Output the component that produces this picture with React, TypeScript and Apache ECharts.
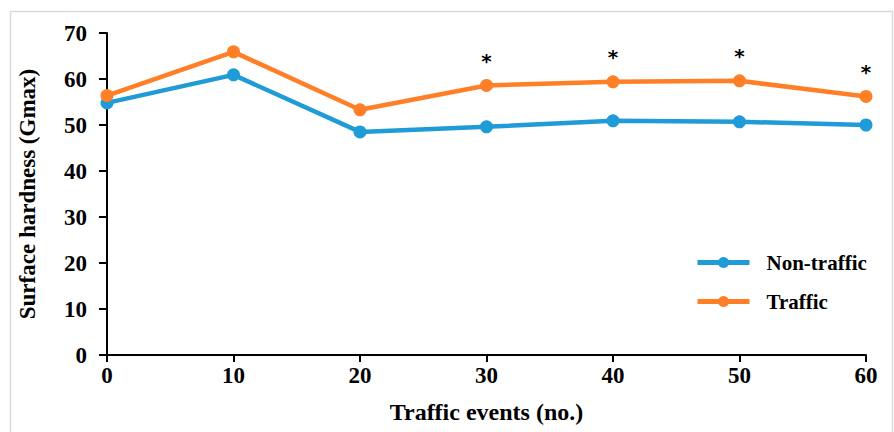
import React, { useEffect, useRef } from "react";
import * as echarts from "echarts";

const trafficEvents = [0, 10, 20, 30, 40, 50, 60];
const nonTraffic = [54.8, 60.9, 48.5, 49.6, 50.9, 50.7, 50.0];
const traffic = [56.4, 65.9, 53.3, 58.6, 59.4, 59.6, 56.2];
const significant = [false, false, false, true, true, true, true];
const yTicks = [0, 10, 20, 30, 40, 50, 60, 70];

const FONT = "'Liberation Serif', 'Times New Roman', serif";

export default function App() {
  const ref = useRef<HTMLDivElement>(null);
  useEffect(() => {
    if (!ref.current) return;
    const chart = echarts.init(ref.current, undefined, { renderer: "svg" });
    chart.setOption({
      animation: false,
      backgroundColor: "#ffffff",
      textStyle: { fontFamily: FONT },
      graphic: [
        {
          type: "rect",
          shape: { x: 10.5, y: 11.5, width: 882, height: 440 },
          style: { fill: "none", stroke: "#d9d9d9", lineWidth: 1.5 },
          silent: true,
          z: -1,
        },
      ],
      grid: { left: 107, right: 28, top: 33, bottom: 77 },
      legend: {
        orient: "vertical",
        left: 690,
        top: 247,
        itemWidth: 52,
        itemHeight: 14,
        itemGap: 18,
        lineStyle: { width: 5 },
        textStyle: { fontFamily: FONT, fontSize: 21, fontWeight: "bold", color: "#000", padding: [0, 0, 0, 12] },
        data: ["Non-traffic", "Traffic"],
      },
      xAxis: {
        type: "value",
        min: 0,
        max: 60,
        interval: 10,
        name: "Traffic events (no.)",
        nameLocation: "middle",
        nameGap: 45,
        nameTextStyle: { fontFamily: FONT, fontSize: 24, fontWeight: "bold", color: "#000" },
        axisLine: { show: true, lineStyle: { color: "#000", width: 2 } },
        axisTick: { show: true, inside: false, length: 7, lineStyle: { color: "#000", width: 2 } },
        axisLabel: { fontFamily: FONT, fontSize: 23, fontWeight: "bold", color: "#000", margin: 9, formatter: (v: number) => String(v) },
        splitLine: { show: false },
      },
      yAxis: {
        type: "value",
        min: yTicks[0],
        max: yTicks[yTicks.length - 1],
        interval: 10,
        name: "Surface hardness (Gmax)",
        nameLocation: "middle",
        nameGap: 68,
        nameTextStyle: { fontFamily: FONT, fontSize: 23, fontWeight: "bold", color: "#000" },
        axisLine: { show: true, lineStyle: { color: "#000", width: 2 } },
        axisTick: { show: true, inside: false, length: 8, lineStyle: { color: "#000", width: 2 } },
        axisLabel: { fontFamily: FONT, fontSize: 23, fontWeight: "bold", color: "#000", margin: 20 },
        splitLine: { show: false },
      },
      series: [
        {
          name: "Non-traffic",
          type: "line",
          data: trafficEvents.map((x, i) => [x, nonTraffic[i]]),
          symbol: "circle",
          symbolSize: 13,
          lineStyle: { width: 4.5, color: "#1f9bd7" },
          itemStyle: { color: "#1f9bd7" },
        },
        {
          name: "Traffic",
          type: "line",
          data: trafficEvents.map((x, i) => ({
            value: [x, traffic[i]],
            label: {
              show: significant[i],
              position: "top",
              distance: 8,
              formatter: "*",
              fontFamily: "'DejaVu Sans', sans-serif",
              fontSize: 20,
              fontWeight: "bold",
              color: "#000",
            },
          })),
          symbol: "circle",
          symbolSize: 13,
          lineStyle: { width: 4.5, color: "#ff7f27" },
          itemStyle: { color: "#ff7f27" },
        },
      ],
    });
    return () => chart.dispose();
  }, []);
  return (
    <div
      ref={ref}
      style={{ position: "fixed", left: 0, top: 0, width: 894, height: 432 }}
    />
  );
}
